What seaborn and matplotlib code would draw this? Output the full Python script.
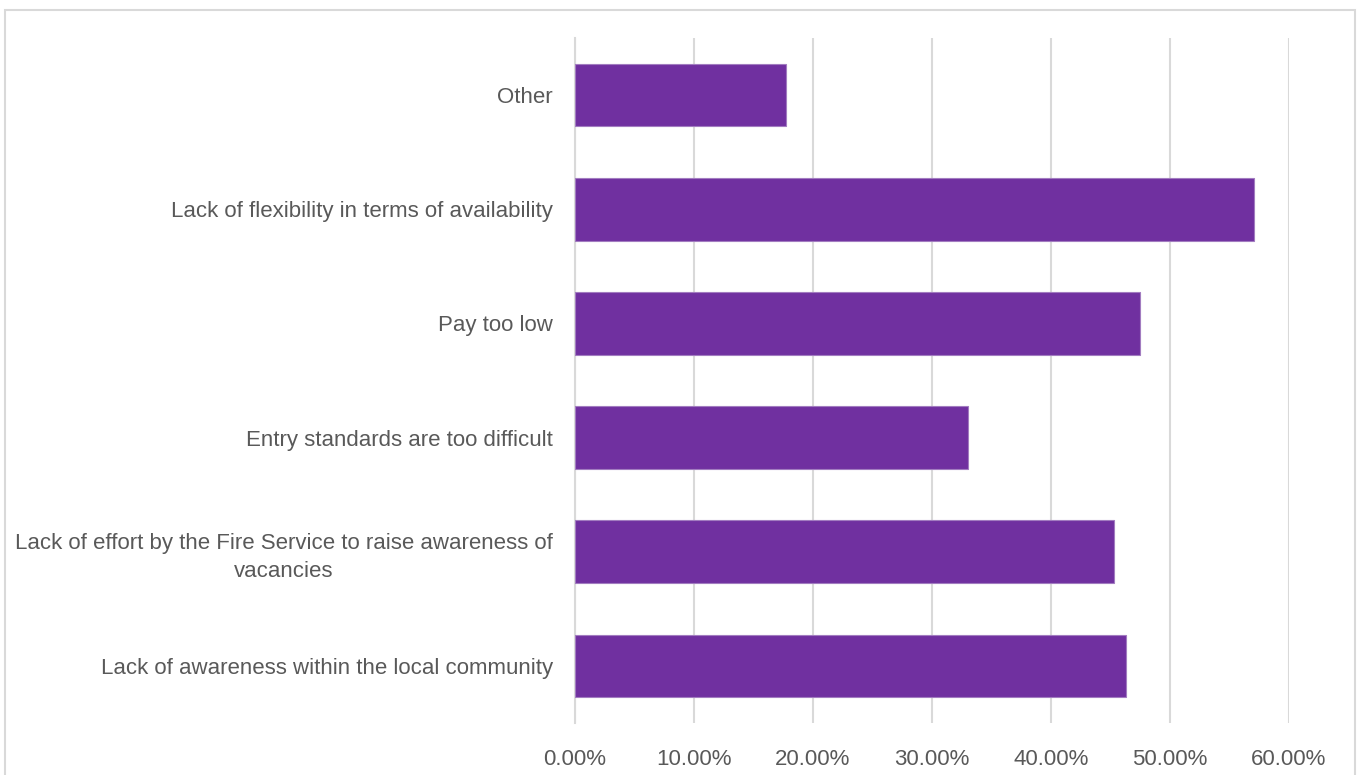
import matplotlib
matplotlib.use("Agg")
import matplotlib.pyplot as plt
from matplotlib.patches import Rectangle
from matplotlib.ticker import FuncFormatter
import seaborn as sns
import pandas as pd

categories = [
    "Other",
    "Lack of flexibility in terms of availability",
    "Pay too low",
    "Entry standards are too difficult",
    "Lack of effort by the Fire Service to raise awareness of\nvacancies",
    "Lack of awareness within the local community",
]
shares = [0.1773, 0.5706, 0.4748, 0.3303, 0.4529, 0.4630]
x_ticks = [0.0, 0.1, 0.2, 0.3, 0.4, 0.5, 0.6]

df = pd.DataFrame({"reason": categories, "share": shares})

sns.set_theme(style="white")
plt.rcParams["font.family"] = ["Liberation Sans", "DejaVu Sans"]

text_color = "#595959"
grid_color = "#D9D9D9"
bar_color = "#7030A0"

fig = plt.figure(figsize=(13.58, 7.75), dpi=100)
ax = fig.add_axes([575 / 1358, 52 / 775, (1289 - 575) / 1358, (723 - 38) / 775])

sns.barplot(data=df, x="share", y="reason", order=categories, orient="h",
            color=bar_color, saturation=1, width=0.55,
            edgecolor="#A27CC0", linewidth=0.8, ax=ax, zorder=3)

ax.set_xlim(0, 0.6)
ax.set_ylim(5.5, -0.5)
ax.set_xticks(x_ticks)
ax.xaxis.set_major_formatter(FuncFormatter(lambda v, p: f"{v * 100:.2f}%"))
ax.grid(axis="x", color=grid_color, linewidth=1.5, zorder=0)
ax.grid(axis="y", visible=False)
for s in ["top", "right", "bottom"]:
    ax.spines[s].set_visible(False)
ax.spines["left"].set_color(grid_color)
ax.spines["left"].set_linewidth(1.5)
ax.tick_params(axis="both", length=0, labelsize=16, labelcolor=text_color)
ax.tick_params(axis="x", pad=19)
ax.tick_params(axis="y", pad=16)
for lbl in ax.get_yticklabels():
    lbl.set_multialignment("center")
    lbl.set_linespacing(1.45)
ax.set_xlabel("")
ax.set_ylabel("")

fig.patches.append(Rectangle((5 / 1358, -0.05), 1350 / 1358, 1.05 - 10 / 775,
                             transform=fig.transFigure, fill=False,
                             edgecolor=grid_color, linewidth=1.5))

fig.savefig("out.png", dpi=100)
